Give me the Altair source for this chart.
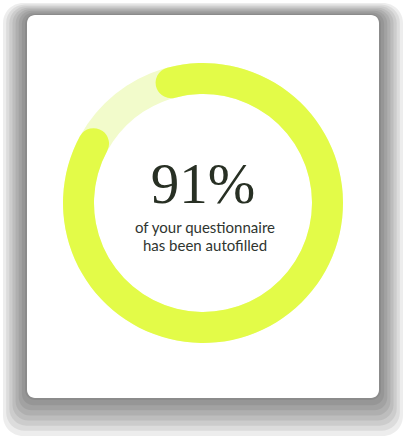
import altair as alt
import pandas as pd
import math

segments = ["autofilled"]
values = [91]
track_values = [100]
big_label = ["91%"]
sub_lines = ["of your questionnaire", "has been autofilled"]
sub_index = [0, 1]

W, H = 406, 438
CX, CY = 203, 203
start = math.radians(-22)

one = pd.DataFrame({"k": [0]})

# soft shadow layers
layers = []
n = 8
for j in range(n):
    f = j / (n - 1)
    x1 = 3 + 22 * f
    x2 = 403 - 22 * f
    y1 = 3 + 11 * f
    y2 = 436 - 36 * f
    layers.append(
        alt.Chart(one).mark_rect(color="#000000", opacity=0.07, cornerRadius=20 - 10 * f).encode(
            x=alt.value(x1), x2=alt.value(x2), y=alt.value(y1), y2=alt.value(y2)
        )
    )

card = alt.Chart(one).mark_rect(color="#ffffff", cornerRadius=8).encode(
    x=alt.value(27), x2=alt.value(379), y=alt.value(15), y2=alt.value(398)
)
layers.append(card)

track = alt.Chart(pd.DataFrame({"seg": ["track"], "v": track_values})).mark_arc(
    innerRadius=109, outerRadius=140, color="#F2FBCB"
).encode(
    theta=alt.Theta("v:Q", scale=alt.Scale(domain=[0, 100], range=[start, start + 2 * math.pi])),
    x=alt.value(CX), y=alt.value(CY),
)
layers.append(track)

prog = alt.Chart(pd.DataFrame({"seg": segments, "v": values})).mark_arc(
    innerRadius=109, outerRadius=140, cornerRadius=15.5, color="#E3FB48"
).encode(
    theta=alt.Theta("v:Q", scale=alt.Scale(domain=[0, 100], range=[start, start + 2 * math.pi])),
    x=alt.value(CX), y=alt.value(CY),
)
layers.append(prog)

big = alt.Chart(pd.DataFrame({"t": big_label})).mark_text(
    font="Liberation Serif", fontSize=57, color="#283024", align="center", baseline="alphabetic"
).encode(text="t:N", x=alt.value(203), y=alt.value(203))
layers.append(big)

sub = alt.Chart(pd.DataFrame({"t": sub_lines, "i": sub_index})).mark_text(
    font="Lato", fontSize=15, color="#2f3530", align="center", baseline="alphabetic"
).encode(
    text="t:N", x=alt.value(205),
    y=alt.Y("i:Q", scale=alt.Scale(domain=[0, 1], range=[233, 251]), axis=None),
)
layers.append(sub)

chart = alt.layer(*layers).properties(
    width=W, height=H, padding=0, autosize="none", background="#ffffff"
).configure_view(stroke=None)

chart.save("out.html", embed_options={"renderer": "svg", "actions": False})
